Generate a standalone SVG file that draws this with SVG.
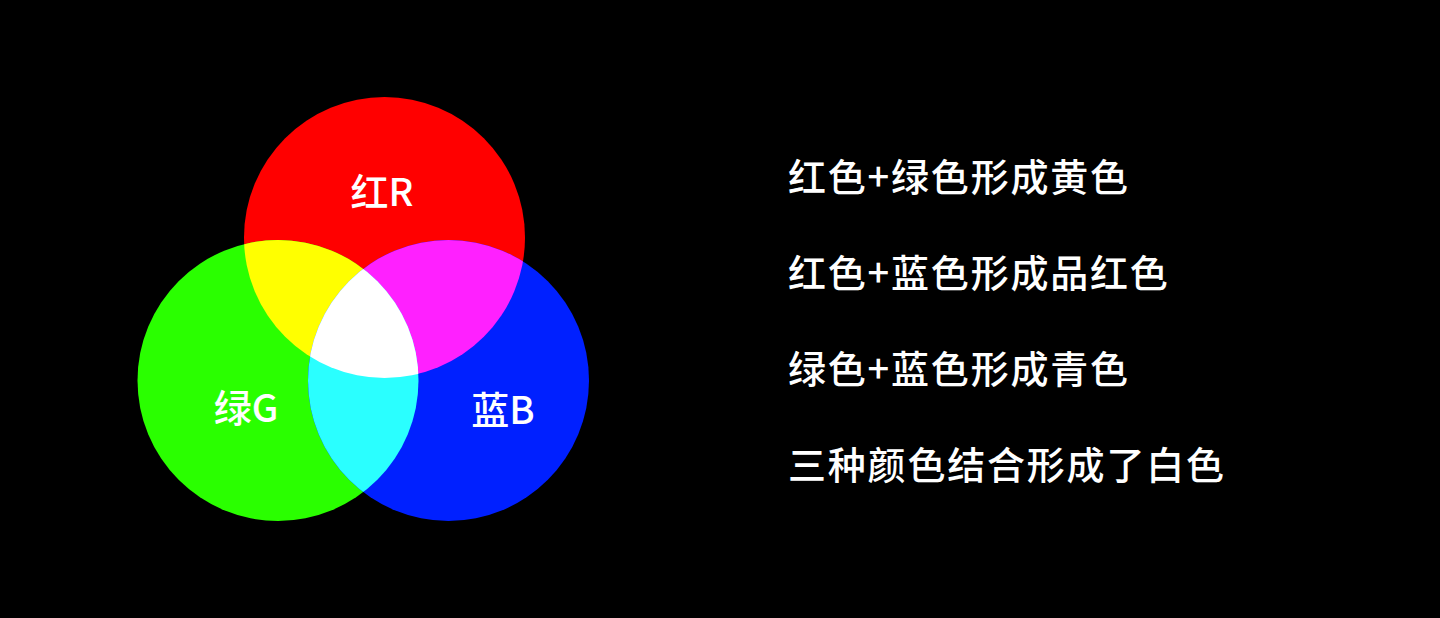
<svg xmlns="http://www.w3.org/2000/svg" width="1440" height="618" viewBox="0 0 1440 618">
<style>
.lbl{font-family:"Noto Sans CJK SC","Liberation Sans",sans-serif;fill:#fff;font-size:38px;font-weight:500;text-anchor:middle;}
.txt{font-family:"Noto Sans CJK SC","Liberation Sans",sans-serif;fill:#fff;font-size:38px;font-weight:500;letter-spacing:1.8px;}
</style>
<defs>
<clipPath id="cG"><circle cx="278" cy="380.5" r="140.5"/></clipPath>
<clipPath id="cB"><circle cx="448.5" cy="380.5" r="140.5"/></clipPath>
</defs>
<rect x="0" y="0" width="1440" height="618" fill="#000"/>
<g id="circles">
<circle id="red" cx="384.5" cy="237.5" r="140.5" fill="#FF0000"/>
<circle id="green" cx="278" cy="380.5" r="140.5" fill="#2AFF00"/>
<circle id="blue" cx="448.5" cy="380.5" r="140.5" fill="#0020FF"/>
<circle id="yellow" cx="384.5" cy="237.5" r="140.5" fill="#FFFF00" clip-path="url(#cG)"/>
<circle id="magenta" cx="384.5" cy="237.5" r="140.5" fill="#FF20FF" clip-path="url(#cB)"/>
<circle id="cyan" cx="278" cy="380.5" r="140.5" fill="#2AFFFF" clip-path="url(#cB)"/>
<g clip-path="url(#cB)"><circle id="white" cx="384.5" cy="237.5" r="140.5" fill="#FFFFFF" clip-path="url(#cG)"/></g>
</g>
<g id="labels">
<text class="lbl" x="382" y="206">红R</text>
<text class="lbl" x="246" y="422">绿G</text>
<text class="lbl" x="503" y="424">蓝B</text>
</g>
<g id="notes">
<text class="txt" x="788" y="191">红色+绿色形成黄色</text>
<text class="txt" x="788" y="287">红色+蓝色形成品红色</text>
<text class="txt" x="788" y="383">绿色+蓝色形成青色</text>
<text class="txt" x="788" y="479">三种颜色结合形成了白色</text>
</g>
</svg>
